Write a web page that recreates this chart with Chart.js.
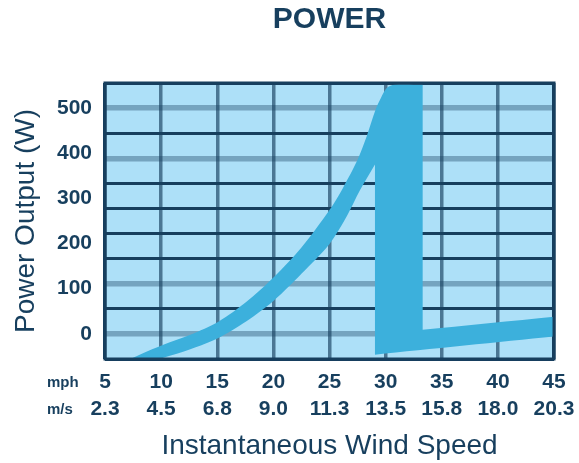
<!DOCTYPE html>
<html>
<head>
<meta charset="utf-8">
<script src="https://cdn.jsdelivr.net/npm/chart.js@4.4.1/dist/chart.umd.min.js"></script>
<style>
  body { margin: 0; background: #fff; }
</style>
</head>
<body>
<canvas id="chart" width="579" height="463"></canvas>
<script>
const mphTicks = [5, 10, 15, 20, 25, 30, 35, 40, 45];
const msTicks = ['2.3', '4.5', '6.8', '9.0', '11.3', '13.5', '15.8', '18.0', '20.3'];
const wattTicks = [0, 100, 200, 300, 400, 500];

// upper edge of the power band (mph, W); corners repeated to keep them sharp
const upperMph = [5, 7.5, 10.2, 12.6, 15.1, 17.6, 20.1, 22.5, 25.0, 26.2, 27.5, 28.3, 29.1, 29.6, 30.1, 30.8, 33.3, 33.3, 33.3, 33.3, 45];
const upperW = [-90, -53, -24, -2, 27, 71, 127, 191, 274, 323, 385, 436, 496, 523, 544, 551, 551, 551, 9, 9, 38];
// lower edge of the power band (mph, W)
const lowerMph = [5, 8.1, 10.2, 12.6, 15.1, 17.6, 20.1, 22.5, 25.0, 26.6, 27.7, 29.05, 29.05, 29.05, 29.05, 45];
const lowerW = [-110, -71, -53, -34, -9, 28, 75, 133, 199, 263, 317, 375, 375, -46, -46, -6];

const yMin = -55.5, yMax = 555;
const navy = '#173f5e';
const bandColor = '#3cb0dc';

const lightRows = [1, 3, 8, 10];

const ctx = document.getElementById('chart').getContext('2d');
Chart.defaults.font.family = '"Liberation Sans", Arial, sans-serif';
Chart.defaults.color = navy;

const plotDecor = {
  id: 'plotDecor',
  beforeDraw(chart) {
    const {ctx, chartArea: a} = chart;
    ctx.save();
    ctx.fillStyle = '#ade0f8';
    ctx.fillRect(a.left, a.top, a.right - a.left, a.bottom - a.top);
    ctx.restore();
  },
  afterDraw(chart) {
    const {ctx, chartArea: a} = chart;
    const xs = chart.scales.x;
    ctx.save();
    ctx.strokeStyle = navy;
    ctx.lineWidth = 3;
    ctx.strokeRect(a.left, a.top, a.right - a.left, a.bottom - a.top);
    ctx.fillStyle = navy;
    ctx.font = 'bold 15px "Liberation Sans", Arial, sans-serif';
    ctx.textBaseline = 'middle';
    ctx.textAlign = 'left';
    ctx.fillText('mph', 47, xs.top + 10 + 13.5);
    ctx.fillText('m/s', 47, xs.top + 10 + 13.5 + 27);
    ctx.restore();
  }
};

new Chart(ctx, {
  type: 'line',
  data: {
    datasets: [
      {
        data: upperMph.map((x, i) => ({x: x, y: upperW[i]})),
        borderColor: 'rgba(0,0,0,0)',
        borderWidth: 0,
        pointRadius: 0,
        tension: 0.3,
        fill: false
      },
      {
        data: lowerMph.map((x, i) => ({x: x, y: lowerW[i]})),
        borderColor: 'rgba(0,0,0,0)',
        borderWidth: 0,
        pointRadius: 0,
        tension: 0.3,
        backgroundColor: bandColor,
        fill: '-1'
      }
    ]
  },
  options: {
    responsive: false,
    animation: false,
    devicePixelRatio: 1,
    layout: { padding: { left: 0, right: 25, top: 0, bottom: 0 } },
    plugins: {
      legend: { display: false },
      tooltip: { enabled: false },
      title: {
        display: true,
        text: 'POWER',
        fullSize: false,
        color: navy,
        font: { size: 30, weight: 'bold' },
        padding: { top: 2, bottom: 45 }
      }
    },
    scales: {
      x: {
        type: 'linear',
        min: 5,
        max: 45,
        z: 1,
        afterBuildTicks: s => { s.ticks = mphTicks.map(v => ({value: v})); },
        afterFit: s => { s.height = 104; s.paddingLeft = 0; s.paddingRight = 0; },
        ticks: {
          autoSkip: false,
          maxRotation: 0,
          padding: 10,
          color: navy,
          font: { size: 21, weight: 'bold', lineHeight: 1.286 },
          callback: (v, i) => [String(mphTicks[i]), msTicks[i]]
        },
        grid: {
          drawTicks: false,
          color: c => (c.index === 0 || c.index === mphTicks.length - 1) ? navy : 'rgba(23,63,94,0.65)',
          lineWidth: 3.5
        },
        border: { display: false },
        title: {
          display: true,
          text: 'Instantaneous Wind Speed',
          color: navy,
          font: { size: 28 },
          padding: { top: 0, bottom: 0 }
        }
      },
      y: {
        type: 'linear',
        min: yMin,
        max: yMax,
        position: 'left',
        afterBuildTicks: s => { s.ticks = wattTicks.map(v => ({value: v})); },
        afterFit: s => { s.width = 105; s.paddingTop = 0; s.paddingBottom = 0; },
        ticks: {
          padding: 13,
          color: navy,
          font: { size: 21, weight: 'bold' }
        },
        grid: { display: false, drawTicks: false },
        border: { display: false },
        title: {
          display: true,
          text: 'Power Output (W)',
          color: navy,
          font: { size: 28 },
          padding: { top: 9, bottom: 0 }
        }
      },
      yGrid: {
        type: 'linear',
        min: yMin,
        max: yMax,
        position: 'left',
        z: 1,
        afterBuildTicks: s => {
          const step = (yMax - yMin) / 11;
          s.ticks = Array.from({length: 12}, (_, i) => ({value: yMin + i * step}));
        },
        afterFit: s => { s.width = 0; },
        ticks: { display: false },
        grid: {
          drawTicks: false,
          color: c => lightRows.includes(c.index) ? 'rgba(23,63,94,0.37)' : navy,
          lineWidth: c => lightRows.includes(c.index) ? 5.5 : 3
        },
        border: { display: false }
      }
    }
  },
  plugins: [plotDecor]
});
</script>
</body>
</html>
